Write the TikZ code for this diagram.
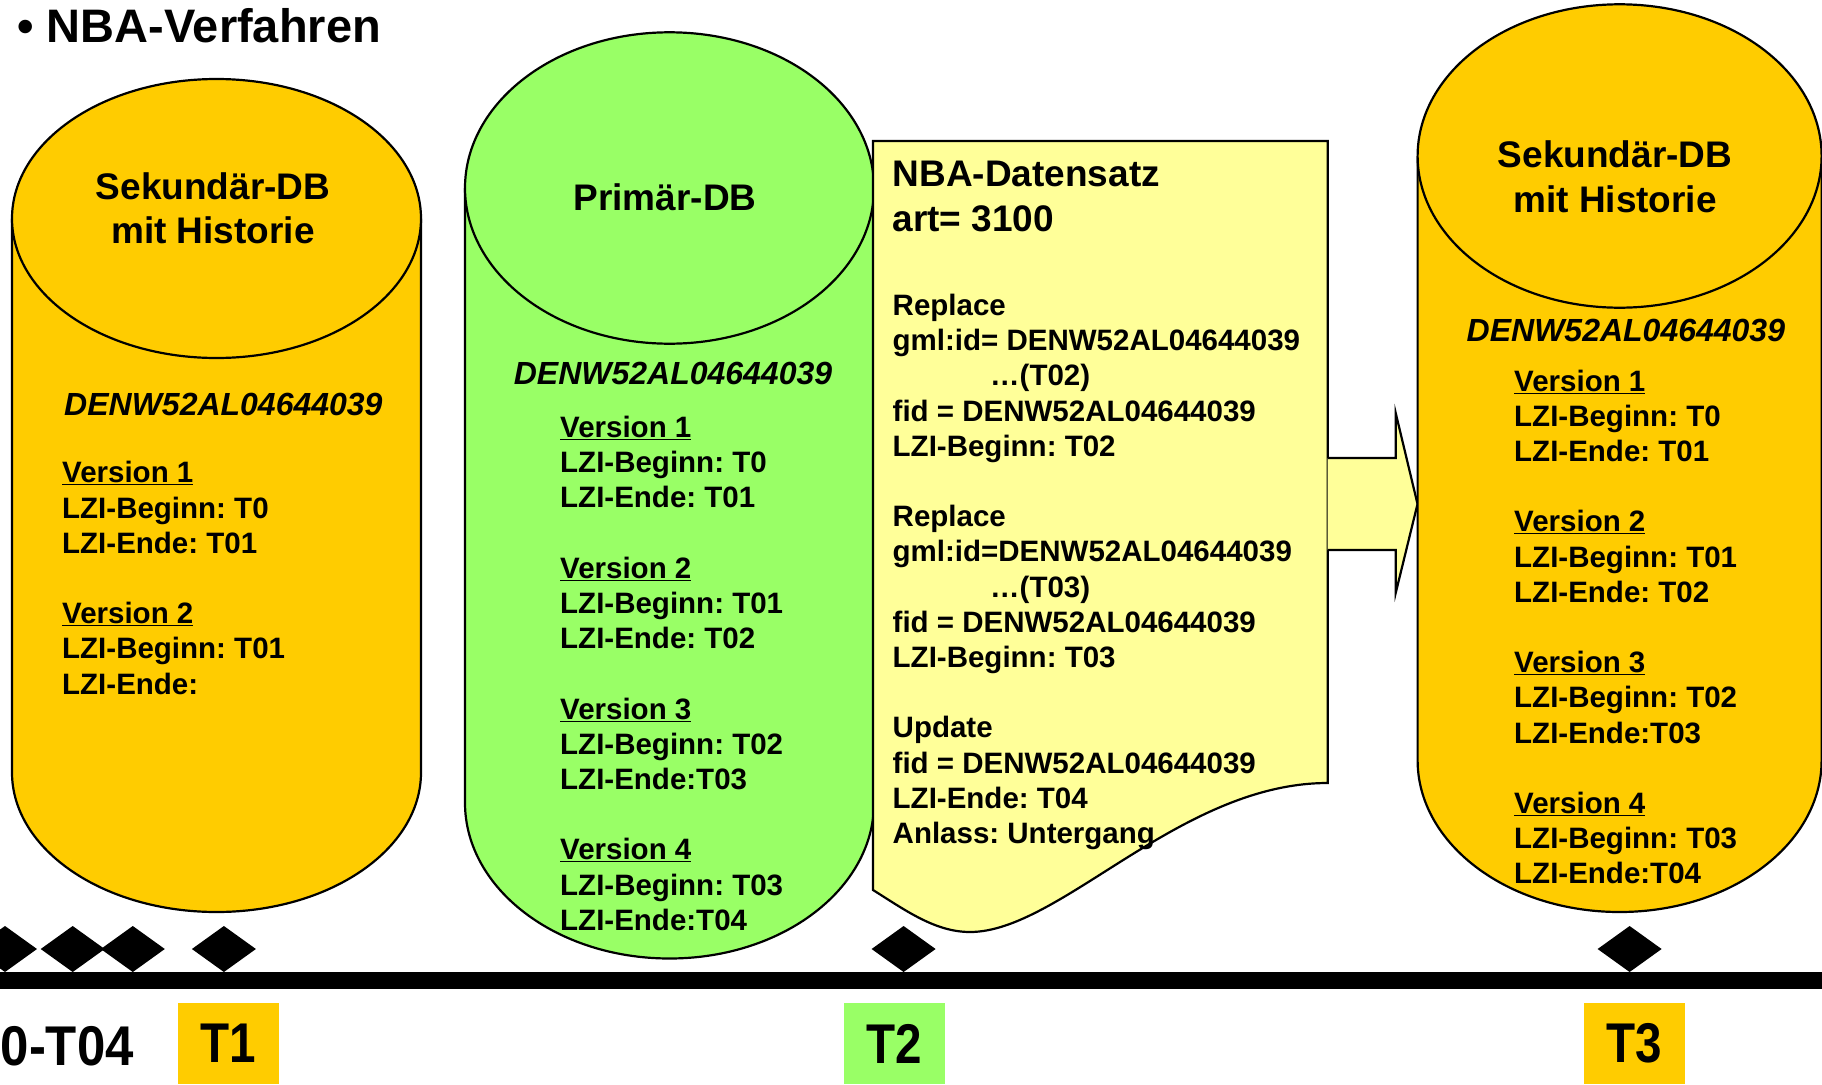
\documentclass[tikz,border=0pt]{standalone}
\usepackage{graphicx}
\usepackage{fontspec}
\setmainfont{Liberation Sans}
\frenchspacing
\definecolor{dbyellow}{HTML}{FFCC00}
\definecolor{dbgreen}{HTML}{99FF66}
\definecolor{docyellow}{HTML}{FFFF99}

\begin{document}
\begin{tikzpicture}[x=1pt, y=-1pt]

\tikzset{%
every node/.style={inner sep=0pt},%
tank/.style={draw, line width=2.2pt}%
}

\tikzstyle{dbtitle}=[align=center, font=\fontsize{37}{44.5}\selectfont\bfseries]
\tikzstyle{ident}=[anchor=base west, font=\fontsize{32}{36}\selectfont\bfseries\itshape]
\tikzstyle{versions}=[anchor=north west, align=left, font=\fontsize{29.5}{35.2}\selectfont\bfseries]
\tikzstyle{stamp}=[minimum width=101pt, minimum height=81pt, font=\fontsize{56}{60}\selectfont\bfseries]

\useasboundingbox (0,0) rectangle (1822,1084);

\node[anchor=base west, font=\fontsize{47}{50}\selectfont\bfseries] (title) at (17,42) {• NBA-Verfahren};

% Sekundaer-DB (T1)
\draw[tank, fill=dbyellow] (12,218.5) -- (12,772.5) arc[start angle=180, end angle=0, x radius=204.5, y radius=139.5] -- (421,218.5);
\draw[tank, fill=dbyellow] (216.5,218.5) ellipse [x radius=204.5, y radius=139.5];
\node[dbtitle] (sek1) at (213,208.5) {Sekundär-DB\\mit Historie};
\node[ident] (id1) at (64,415.5) {DENW52AL04644039};
\node[versions] (ver1) at (62,461.3) {\underline{Version 1}\\LZI-Beginn: T0\\LZI-Ende: T01\\[35.2pt]
\underline{Version 2}\\LZI-Beginn: T01\\LZI-Ende:};

% Primaer-DB (T2)
\draw[tank, fill=dbgreen] (465,188) -- (465,802.8) arc[start angle=180, end angle=0, x radius=204.5, y radius=155.7] -- (874,188);
\draw[tank, fill=dbgreen] (669.5,188) ellipse [x radius=204.5, y radius=155.7];
\node[dbtitle] (prim) at (665,197.5) {Primär-DB};
\node[ident] (id2) at (513.6,384.5) {DENW52AL04644039};
\node[versions] (ver2) at (560,416) {\underline{Version 1}\\LZI-Beginn: T0\\LZI-Ende: T01\\[35.2pt]
\underline{Version 2}\\LZI-Beginn: T01\\LZI-Ende: T02\\[35.2pt]
\underline{Version 3}\\LZI-Beginn: T02\\LZI-Ende:T03\\[35.2pt]
\underline{Version 4}\\LZI-Beginn: T03\\LZI-Ende:T04};

% NBA-Datensatz
\draw[tank, fill=docyellow] (873,141) -- (1327.7,141) -- (1327.7,783)
  .. controls (1180,783) and (1060,932) .. (970,932)
  .. controls (935,932) and (905,910) .. (873,890) -- cycle;
\node[anchor=north west, align=left, font=\fontsize{37}{45}\selectfont\bfseries] (nbahead) at (892.5,160.5) {NBA-Datensatz\\art= 3100};
\node[versions] (nbabody) at (892.5,294) {Replace\\gml:id= DENW52AL04644039\\\hspace*{97.5pt}…(T02)\\fid = DENW52AL04644039\\LZI-Beginn: T02\\[35.2pt]
Replace\\gml:id=DENW52AL04644039\\\hspace*{97.5pt}…(T03)\\fid = DENW52AL04644039\\LZI-Beginn: T03\\[35.2pt]
Update\\fid = DENW52AL04644039\\LZI-Ende: T04\\Anlass: Untergang};

% block arrow
\draw[tank, fill=docyellow] (1327.7,458) -- (1395.7,458) -- (1395.7,413) -- (1417.5,504) -- (1395.7,593) -- (1395.7,550) -- (1327.7,550);

% Sekundaer-DB (T3)
\draw[tank, fill=dbyellow] (1417.6,156) -- (1417.6,760.3) arc[start angle=180, end angle=0, x radius=202, y radius=151.7] -- (1821.6,156);
\draw[tank, fill=dbyellow] (1619.6,156) ellipse [x radius=202, y radius=151.7];
\node[dbtitle] (sek3) at (1615,176.6) {Sekundär-DB\\mit Historie};
\node[ident] (id3) at (1466.5,341.5) {DENW52AL04644039};
\node[versions] (ver3) at (1514,369.5) {\underline{Version 1}\\LZI-Beginn: T0\\LZI-Ende: T01\\[35.2pt]
\underline{Version 2}\\LZI-Beginn: T01\\LZI-Ende: T02\\[35.2pt]
\underline{Version 3}\\LZI-Beginn: T02\\LZI-Ende:T03\\[35.2pt]
\underline{Version 4}\\LZI-Beginn: T03\\LZI-Ende:T04};

% time line
\fill (0,972) rectangle (1822,989);
\foreach \x in {5,72.7,132.8,223.9,903.6,1629.6}
  \fill (\x,926) -- ++(32,23) -- ++(-32,23) -- ++(-32,-23) -- cycle;

\node[stamp, anchor=east, minimum width=0pt] (t0) at (134,1046) {\scalebox{.91}[1]{0-T04}};
\node[stamp, fill=dbyellow] (t1) at (228.5,1043.5) {\scalebox{.85}[1]{T1}};
\node[stamp, fill=dbgreen] (t2) at (894.2,1043.5) {\scalebox{.85}[1]{T2}};
\node[stamp, fill=dbyellow] (t3) at (1634.5,1043.5) {\scalebox{.85}[1]{T3}};

\end{tikzpicture}
\end{document}
